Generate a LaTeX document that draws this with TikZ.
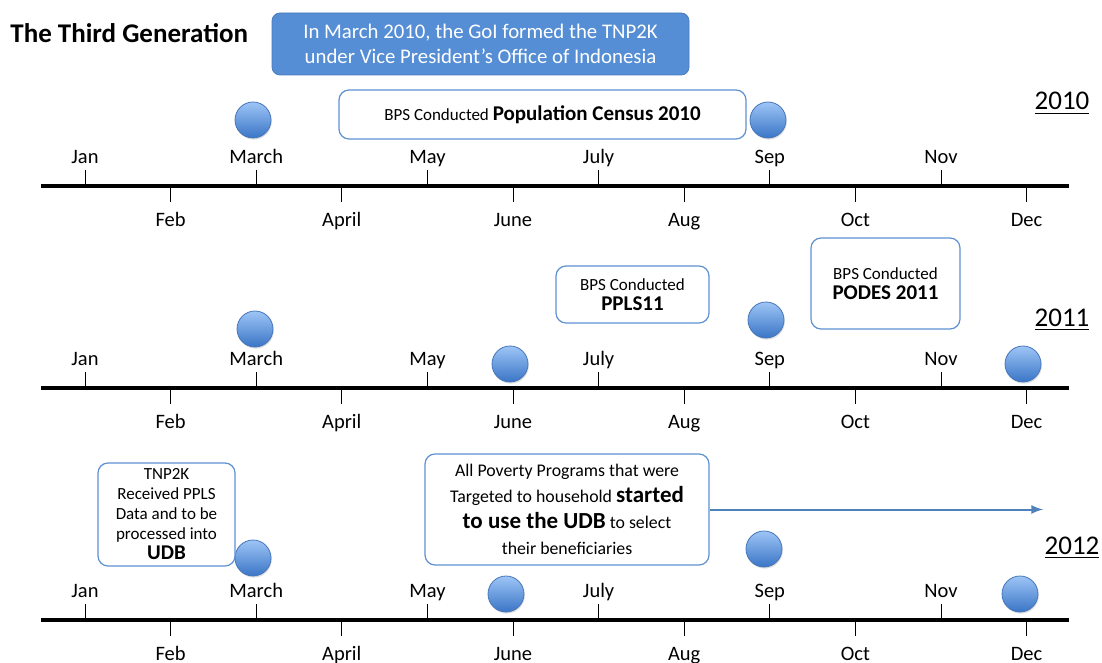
\documentclass[tikz,border=0pt]{standalone}
\usepackage{fontspec}
\setmainfont{Carlito}
\usepackage{tikz}
\usetikzlibrary{positioning}
\usetikzlibrary{shadows}

\definecolor{govblue}{RGB}{85,142,213}
\definecolor{govline}{RGB}{72,124,190}
\definecolor{noteline}{RGB}{95,145,210}
\definecolor{arrowblue}{RGB}{79,129,189}
\definecolor{balltop}{RGB}{158,197,246}
\definecolor{ballbot}{RGB}{58,117,198}
\definecolor{ballline}{RGB}{70,118,185}

\newcommand{\notetxt}{\fontsize{8.5}{10}\selectfont}
\newcommand{\notebold}{\fontsize{10.5}{12}\selectfont\bfseries}

\tikzset{
	month/.style={anchor=base, inner sep=0pt, font=\fontsize{10.25}{12}\selectfont},
	tickline/.style={line width=0.5pt},
	axisline/.style={line width=2pt},
	yearlabel/.style={anchor=base, inner sep=0pt, font=\fontsize{13.5}{16}\selectfont},
	event/.style={circle, inner sep=0pt, minimum size=18pt, draw=ballline, line width=0.4pt,
		top color=balltop, bottom color=ballbot,
		drop shadow={opacity=0.25, shadow xshift=0.4pt, shadow yshift=-0.8pt}},
	note/.style={rectangle, draw=noteline, line width=0.6pt, fill=white, rounded corners=5pt,
		align=center, inner sep=2pt, font=\notetxt},
}

\begin{document}
\begin{tikzpicture}[x=0.5pt, y=-0.5pt]
\useasboundingbox (0,0) rectangle (1102,663);

\node at (10,42.5)[anchor=base west, inner sep=0pt, font=\fontsize{13.5}{16}\selectfont\bfseries] (title) {The Third Generation};
\node at (480.5,44)[rectangle, draw=govline, line width=0.4pt, fill=govblue, rounded corners=4pt, minimum width=208.5pt, minimum height=31pt, align=center, text=white, font=\fontsize{10.4}{12.5}\selectfont] (tnp) {In March 2010, the GoI formed the TNP2K\\under Vice President’s Office of Indonesia};

% the three year axes
\foreach \row/\ly in {a/186, b/388, c/620} {
	\coordinate (\row start) at (41,\ly);
	\coordinate (\row end) at (1069,\ly);
	\draw[axisline] (\row start) -- (\row end);
	\foreach \m [count=\i from 0] in {Jan,Feb,March,April,May,June,July,Aug,Sep,Oct,Nov,Dec} {
		\pgfmathsetmacro\mx{85+85.6*\i}
		\ifodd\i
			\draw[tickline] (\mx,\ly) -- (\mx,\ly+16);
			\node at (\mx,\ly+40.5)[month] (\row-\i) {\m};
		\else
			\draw[tickline] (\mx,\ly-16) -- (\mx,\ly);
			\node at (\mx,\ly-22.5)[month] (\row-\i) {\m};
		\fi
	}
}

\node at (1062,110)[yearlabel] (y2010) {\underline{2010}};
\node at (1062,326)[yearlabel] (y2011) {\underline{2011}};
\node at (1072,554)[yearlabel] (y2012) {\underline{2012}};

% events 2010
\node at (253,120)[event] (ev10mar) {};
\node at (768,120)[event] (ev10sep) {};
% events 2011
\node at (255,329)[event] (ev11mar) {};
\node at (510,364)[event] (ev11jun) {};
\node at (766,320)[event] (ev11sep) {};
\node at (1023,364)[event] (ev11dec) {};
% events 2012
\node at (253,558)[event] (ev12mar) {};
\node at (506,594)[event] (ev12jun) {};
\node at (764,549)[event] (ev12sep) {};
\node at (1020,594)[event] (ev12dec) {};

\node at (542.5,114.5)[note, minimum width=203.5pt, minimum height=24.5pt] (census) {BPS Conducted {\notebold Population Census 2010}};
\node at (632.5,294.5)[note, minimum width=76.5pt, minimum height=28.5pt] (ppls) {BPS Conducted\\{\notebold PPLS11}};
\node at (885.5,283.5)[note, minimum width=74.5pt, minimum height=45.5pt] (podes) {BPS Conducted\\{\notebold PODES 2011}};
\node at (166.5,514.5)[note, minimum width=68.5pt, minimum height=51.5pt] (received) {TNP2K\\Received PPLS\\Data and to be\\processed into\\{\notebold UDB}};
\node at (567,509.5)[note, minimum width=142pt, minimum height=55.5pt, font=\fontsize{8.9}{13}\selectfont] (programs) {All Poverty Programs that were\\Targeted to household {\fontsize{11.5}{13}\selectfont\bfseries started}\\{\fontsize{11.5}{13}\selectfont\bfseries to use the UDB} to select\\their beneficiaries};

\coordinate (arrowend) at (1043,509.5);
\begin{scope}[>=latex]
	\draw [arrowblue, line width=1pt, ->] (programs.east) -- (arrowend);
\end{scope}

\end{tikzpicture}
\end{document}
